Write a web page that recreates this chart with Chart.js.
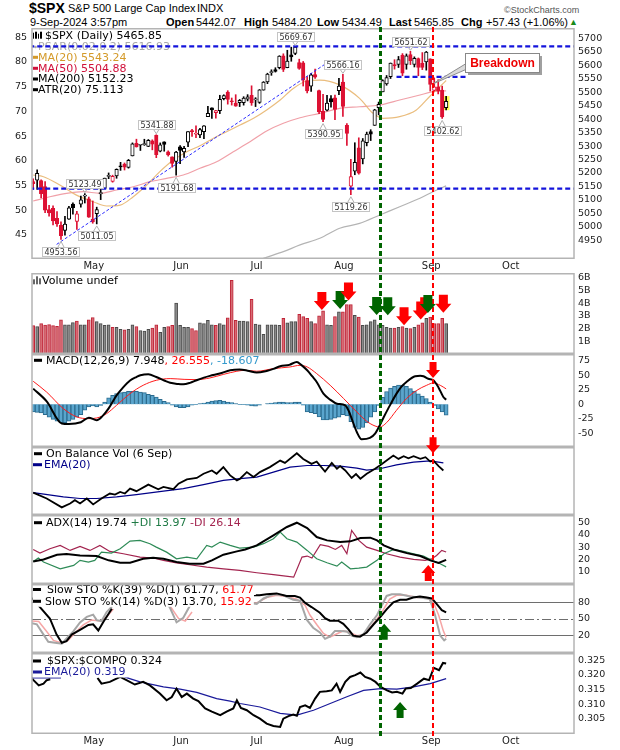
<!DOCTYPE html>
<html>
<head>
<meta charset="utf-8">
<title>$SPX daily</title>
<script src="https://cdn.jsdelivr.net/npm/chart.js@4.4.1/dist/chart.umd.min.js"></script>
<style>
  html, body { margin: 0; padding: 0; background: #fff; }
  #page { position: relative; width: 620px; height: 750px; overflow: hidden; font-family: 'Liberation Sans', Arial, sans-serif; color: #000; }
  .t { position: absolute; white-space: nowrap; font-size: 11px; line-height: 13px; }
  .b { font-weight: bold; }
  canvas { position: absolute; left: 0; }
</style>
</head>
<body>
<div id="page">
  <div class="t b" style="left:29px;top:0px;font-size:14px;line-height:16px;">$SPX</div>
  <div class="t" style="left:68px;top:2px;">S&amp;P 500 Large Cap Index</div>
  <div class="t" style="left:197px;top:2px;">INDX</div>
  <div class="t" style="left:504px;top:4px;font-size:9px;color:#555;">&copy;StockCharts.com</div>
  <div class="t" style="left:30px;top:16px;">9-Sep-2024 3:57pm</div>
  <div class="t b" style="left:166px;top:16px;">Open</div>
  <div class="t" style="left:196px;top:16px;">5442.07</div>
  <div class="t b" style="left:244px;top:16px;">High</div>
  <div class="t" style="left:272px;top:16px;">5484.20</div>
  <div class="t b" style="left:317px;top:16px;">Low</div>
  <div class="t" style="left:342px;top:16px;">5434.49</div>
  <div class="t b" style="left:389px;top:16px;">Last</div>
  <div class="t" style="left:414px;top:16px;">5465.85</div>
  <div class="t b" style="left:461px;top:16px;">Chg</div>
  <div class="t" style="left:486px;top:16px;">+57.43 (+1.06%)</div>
  <div class="t" style="left:569px;top:16px;font-size:9px;color:#1a8a1a;">&#9650;</div>

  <canvas id="cPrice" width="620" height="245" style="top:28px"></canvas>
  <canvas id="cVol" width="620" height="81" style="top:273px"></canvas>
  <canvas id="cMacd" width="620" height="93" style="top:354px"></canvas>
  <canvas id="cObv" width="620" height="68" style="top:447px"></canvas>
  <canvas id="cAdx" width="620" height="69" style="top:515px"></canvas>
  <canvas id="cSto" width="620" height="69" style="top:584px"></canvas>
  <canvas id="cRatio" width="620" height="97" style="top:653px"></canvas>
  <canvas id="overlay" width="620" height="750" style="top:0"></canvas>
</div>

<script>
/* ===========================
   DATA  (daily bars, 10-Apr-2024 .. 9-Sep-2024)
=========================== */

const dates = [
  'Apr 10','Apr 11','Apr 12','Apr 15','Apr 16','Apr 17','Apr 18','Apr 19','Apr 22','Apr 23','Apr 24','Apr 25','Apr 26','Apr 29','Apr 30',
  'May 1','May 2','May 3','May 6','May 7','May 8','May 9','May 10','May 13','May 14','May 15','May 16','May 17','May 20','May 21','May 22','May 23','May 24','May 28','May 29','May 30','May 31',
  'Jun 3','Jun 4','Jun 5','Jun 6','Jun 7','Jun 10','Jun 11','Jun 12','Jun 13','Jun 14','Jun 17','Jun 18','Jun 20','Jun 21','Jun 24','Jun 25','Jun 26','Jun 27','Jun 28',
  'Jul 1','Jul 2','Jul 3','Jul 5','Jul 8','Jul 9','Jul 10','Jul 11','Jul 12','Jul 15','Jul 16','Jul 17','Jul 18','Jul 19','Jul 22','Jul 23','Jul 24','Jul 25','Jul 26','Jul 29','Jul 30','Jul 31',
  'Aug 1','Aug 2','Aug 5','Aug 6','Aug 7','Aug 8','Aug 9','Aug 12','Aug 13','Aug 14','Aug 15','Aug 16','Aug 19','Aug 20','Aug 21','Aug 22','Aug 23','Aug 26','Aug 27','Aug 28','Aug 29','Aug 30',
  'Sep 3','Sep 4','Sep 5','Sep 6','Sep 9'
];

const prevClose = 5209.91;

const open = [
  5167.88,5172.95,5171.51,5149.67,5064.59,5068.97,5031.52,5005.44,4987.33,5028.85,5084.86,5019.88,5084.65,5114.13,5103.78,
  5029.03,5049.32,5122.78,5142.42,5187.20,5168.98,5189.03,5225.49,5233.08,5221.10,5263.26,5310.07,5303.10,5305.35,5298.69,5319.28,5340.26,5281.45,5315.91,5278.73,5259.77,5243.21,
  5297.15,5278.24,5314.48,5357.80,5343.81,5341.22,5353.00,5409.13,5441.93,5424.08,5431.11,5476.15,5499.99,5466.77,5459.58,5460.73,5460.71,5473.59,5488.48,
  5471.08,5461.84,5507.44,5537.91,5572.75,5584.24,5591.26,5635.21,5590.76,5638.16,5644.09,5610.07,5608.56,5543.37,5522.30,5565.30,5505.84,5428.70,5433.67,5476.55,5478.73,5505.59,
  5537.84,5376.63,5151.14,5206.42,5293.13,5252.57,5312.70,5353.98,5376.98,5442.80,5501.13,5530.50,5557.23,5602.88,5603.09,5637.77,5602.88,5639.66,5602.89,5624.51,5607.30,5612.74,
  5623.89,5506.68,5520.08,5507.33,5442.07
];
const high = [
  5178.43,5211.78,5175.03,5168.43,5079.84,5077.96,5056.66,5019.02,5038.84,5076.12,5089.48,5057.75,5114.62,5123.49,5110.83,
  5096.12,5073.21,5139.12,5181.00,5200.23,5191.95,5215.30,5239.66,5237.26,5250.37,5311.76,5325.49,5305.45,5325.32,5324.32,5323.18,5341.88,5311.65,5315.91,5282.27,5260.21,5280.33,
  5302.11,5298.80,5354.16,5362.35,5375.08,5365.79,5375.95,5447.25,5441.93,5432.39,5488.50,5490.38,5505.53,5478.31,5490.66,5472.88,5483.14,5490.81,5523.64,
  5479.55,5509.69,5539.27,5570.33,5583.11,5590.75,5635.39,5642.45,5655.56,5666.94,5669.67,5622.49,5614.05,5557.50,5570.36,5585.34,5508.04,5491.59,5488.32,5487.74,5489.46,5551.51,
  5566.16,5383.89,5250.89,5312.34,5330.64,5328.03,5351.88,5360.74,5436.50,5463.22,5546.23,5561.98,5608.30,5620.51,5632.68,5643.22,5641.82,5651.62,5631.18,5627.03,5646.95,5651.37,
  5623.89,5552.99,5546.30,5522.47,5484.20
];
const low = [
  5138.70,5138.77,5107.94,5052.47,5039.83,5007.25,5001.89,4953.56,4969.40,5027.96,5047.02,4990.58,5073.14,5088.65,5035.31,
  5013.45,5011.05,5101.22,5142.42,5178.96,5165.86,5180.41,5209.68,5211.16,5217.98,5263.26,5296.19,5283.59,5302.40,5297.87,5286.01,5256.93,5278.39,5280.89,5262.70,5222.10,5191.68,
  5234.32,5257.63,5297.64,5335.36,5331.33,5331.52,5327.25,5409.13,5402.51,5403.75,5420.40,5471.32,5455.56,5452.03,5447.59,5446.56,5451.87,5467.54,5451.12,
  5446.53,5458.43,5507.42,5531.63,5562.51,5574.57,5586.44,5576.53,5590.44,5614.75,5639.02,5584.81,5522.81,5497.04,5502.77,5550.90,5419.98,5390.95,5430.70,5444.44,5397.83,5491.19,
  5410.42,5302.03,5119.26,5193.56,5195.54,5233.85,5300.53,5320.41,5376.98,5415.81,5501.13,5525.70,5550.74,5585.50,5591.57,5560.95,5585.16,5602.34,5593.48,5560.95,5583.71,5581.79,
  5504.33,5503.66,5493.54,5402.62,5434.49
];
const close = [
  5160.64,5199.06,5123.41,5061.82,5051.41,5022.21,5011.12,4967.23,5010.60,5070.55,5071.63,5048.42,5099.96,5116.17,5035.69,
  5018.39,5064.20,5127.79,5180.74,5187.70,5187.67,5214.08,5222.68,5221.42,5246.68,5308.15,5297.10,5303.27,5308.13,5321.41,5307.01,5267.84,5304.72,5306.04,5266.95,5235.48,5277.51,
  5283.40,5291.34,5354.03,5352.96,5346.99,5360.79,5375.32,5421.03,5433.74,5431.60,5473.23,5487.03,5473.17,5464.62,5447.87,5469.30,5477.90,5482.87,5460.48,
  5475.09,5509.01,5537.02,5567.19,5572.85,5576.98,5633.91,5584.54,5615.35,5631.22,5667.20,5588.27,5544.59,5505.00,5564.41,5555.74,5427.13,5399.22,5459.10,5463.54,5436.44,5522.30,
  5446.68,5346.56,5186.33,5240.03,5199.50,5319.31,5344.16,5344.39,5434.43,5455.21,5543.22,5554.25,5608.25,5597.12,5620.85,5570.64,5634.61,5616.84,5625.80,5592.18,5591.96,5648.40,
  5528.93,5520.07,5503.41,5408.42,5465.85
];

// volume, billions
const volume = [
  2.23,2.15,2.39,2.28,2.31,2.23,2.18,2.70,2.30,2.30,2.47,2.60,2.30,2.30,2.70,
  2.86,2.55,2.40,2.25,2.30,2.10,2.10,1.95,1.90,1.95,2.30,2.15,1.85,1.80,1.95,2.05,2.30,1.70,2.10,2.15,2.25,4.00,
  2.25,2.10,2.10,2.00,1.85,2.45,2.40,2.65,2.30,2.25,2.40,2.30,2.85,5.80,2.65,2.60,2.60,2.55,4.30,
  2.35,2.30,1.55,2.30,2.30,2.30,2.25,2.80,2.45,2.55,2.55,3.12,2.95,2.80,2.55,2.40,3.00,3.40,2.30,2.25,2.95,3.33,
  3.33,3.90,3.90,3.05,2.90,2.25,2.30,2.55,2.70,2.30,2.25,2.10,2.05,2.05,2.10,2.15,2.05,2.00,2.10,2.30,2.45,2.80,
  2.90,2.40,2.40,2.80,2.40
];

// moving averages  [bar index, value]
const ma20 = [[0,5192.6],[2.6,5186],[6.7,5155.5],[10.9,5118],[15.1,5093.5],[18.5,5077.5],[21.9,5081],[25.2,5112],[28.6,5155.5],[31.9,5205],[35.3,5248],[38.7,5279],[42,5301],[45.4,5329],[48.7,5353],[52.1,5378],[55.5,5403],[58.8,5434],[62.2,5471],[65.5,5514],[68.9,5541.5],[72.2,5545],[77.2,5527],[82.2,5477],[85.6,5421.6],[88.1,5403],[92.3,5409],[96.5,5434],[99.8,5483],[102.4,5520],[104,5543.24]];
const ma50 = [[0,5096],[4.2,5112],[8.4,5124.6],[12.6,5130.7],[16.8,5124.6],[21,5137],[25.2,5149],[29.4,5167.7],[33.6,5180],[37.8,5192.6],[42,5217.5],[46.2,5242],[50.4,5279],[54.6,5316],[58.8,5356],[63,5384.5],[67.2,5405],[72.2,5421.6],[77.2,5440],[82.2,5446],[87.3,5452.4],[92.3,5471],[97.4,5489.5],[100.7,5502],[104,5504.88]];
const ma200 = [[56,4872],[58,4883],[63,4908],[67.2,4933],[72.2,4957.6],[77.2,4995],[82.2,5013],[87.3,5044],[92.3,5075],[97.4,5106],[100.7,5130.7],[104,5152.23]];

// annotations on the price panel
const trendLine = [[5.9,4935],[73.3,5602]];
const levelLines = [
  { from: -1, to: 140, value: 5669.67 },
  { from: -1, to: 140, value: 5142 },
  { from: 91.5, to: 109, value: 5557 }
];
const calloutIdx  = [7, 13, 16, 31, 36, 66, 73, 78, 80, 95, 103];
const calloutKind = ['low','high','low','high','low','high','low','high','low','high','low'];
const breakdown = { text: 'Breakdown', boxIdx: 108.8, boxVal: 5646.5, tipIdx: 100.4, tipVal: 5529 };

// MACD(12,26,9)
const macdLine = [[0,27],[3.4,5],[7.2,-33],[9,-34],[12,-31],[14,-23],[16,-27.6],[17.5,-20],[19,-7],[21,15.5],[22.5,28],[24.4,41],[26,47],[27,50],[29,51.7],[31,47],[33,41],[34.5,37],[36.5,35],[37.8,34.5],[39.5,37],[41,41],[43,46],[44.5,49],[47,53],[49.6,58.6],[52,60],[54,58],[56.3,54.6],[58.8,57.5],[60.5,61],[62.2,65.5],[64.5,68],[66.4,73],[67.5,68],[69,58.6],[70.3,48],[71.4,38.5],[73.1,18.4],[74.8,8],[76.5,1.1],[78.6,-1.7],[79.5,-12],[80.2,-24.7],[81.5,-47.7],[82.7,-60.3],[84.8,-58],[86.1,-50.6],[87.3,-36],[88.3,-22],[89.4,-7.5],[91.5,18.4],[92.7,30],[94,38.5],[96.2,48.3],[97.5,49],[98.3,48.3],[99.5,44],[100.8,41.4],[102.1,28.7],[103.3,12.6],[104,7.95]];
const macdSignal = [[0,39.7],[3.4,21],[7.6,-7.5],[11,-21.8],[13.9,-24.7],[16,-23.6],[18.5,-16],[21,-1.7],[24.4,18.4],[27.7,32.8],[31,41.4],[34.5,44.3],[38,43],[41,42.5],[44.5,45.4],[48,51.7],[51.3,57],[53.4,58.6],[56.3,57],[60.5,61.5],[64.7,64.4],[67.2,67.2],[69,64.4],[71.4,52.9],[74.8,32.8],[78.2,9.8],[81.5,-13.2],[84,-29.3],[86.1,-37.4],[87.3,-39.1],[89,-31.6],[91.5,-10.3],[94,9.8],[96.6,24],[99.1,32.8],[100.8,36.8],[102.5,32.8],[104,26.56]];
const macdHist = [
  -13,-14,-15,-18,-22,-26,-29,-31.6,-31.6,-29,-26,-22,-18,-10,-4.6,
  -3,-4.6,-2,4,11,15.5,18.4,20,21,22.4,22.4,22.4,21,20,17,15.5,12.6,8.6,5,3,-1.7,-4.6,
  -5.7,-5.7,-4.6,-1.7,-0.6,1.1,2.3,4,5.7,6.3,6.9,5.7,4,3,1.1,-0.6,-0.6,-1.7,-3,
  -3.4,-1.7,0,1.1,2.3,3,4,4,3,3,4,4,-1.7,-13,-14.4,-16,-21.8,-27,-27,-26,-24,-22,
  -18,-20,-30,-40,-43,-40,-32,-22,-13,-2,12,22,28,31,33,33,31,27,23,18,14,10,
  4,-2,-8,-13,-18.6
];

// On Balance Volume (relative units, 0 = panel floor, 100 = panel top)
const obvLine = [[0,33],[3.4,24.3],[7.2,11.2],[9.3,17],[10.5,21.8],[11.8,17],[13.5,24.3],[15.1,15.5],[17.2,24.3],[19.3,31.6],[20.6,30],[21.9,34],[23.1,31.6],[24.4,38.8],[26,35],[29,44.7],[31.5,37.9],[32.8,41.3],[35.3,37.9],[36.6,46],[38.7,52.4],[41.2,54.4],[42.9,60.7],[45,65.5],[46.2,60.7],[47.9,70.4],[49.6,58.3],[51.3,51],[52.1,53.4],[53.8,63.1],[55.5,55.8],[57.1,63.1],[59.6,70.4],[62.2,80],[63.4,76.7],[66.4,90.8],[68,82.5],[70.1,75.2],[71.4,78.6],[73.5,64],[75.2,76.7],[76.5,68],[77.3,71.8],[78.6,65.5],[80.2,54.4],[81.3,60.2],[82.4,53.4],[84,60.7],[86.1,68],[87.3,72.8],[89,80],[90.7,87.4],[92,82.5],[93.3,86.4],[94.5,83.5],[95.8,86.4],[97.5,82.5],[98.8,85],[100,78.6],[100.8,80],[102.1,71.8],[103.3,65.5]];
const obvEma = [[0,33],[7.6,26.7],[11.8,24.3],[16,24.3],[21,26.7],[26,30],[32.8,35],[37.8,38.8],[42.9,44.7],[47.9,51],[52.1,53.4],[56.3,55.8],[60.5,63.1],[64.7,70.4],[69,72.8],[73.1,72.8],[77.3,71.8],[81.5,69],[84,66],[87.3,68],[91.5,73.8],[95.8,77.7],[100,79.6],[103.3,76.7]];

// ADX(14)
const adxLine = [[0,18.4],[2.6,20],[6,23.9],[8.4,24.4],[11.8,23.3],[16,22.8],[19,19.3],[21.9,17.3],[24.4,17.3],[27.7,20.6],[30.2,21.4],[32.8,20.6],[36.1,17.9],[39.4,16.5],[42.9,16.5],[45,19.3],[47.9,23.9],[51.3,26.6],[53.4,28.2],[56.3,31.5],[60.5,39.7],[63.9,46.5],[66.4,50],[69,45.6],[71.4,38.3],[74,35.6],[77.3,34.2],[79.9,34.8],[82.4,37.5],[84.9,37.8],[86.6,35.6],[88.3,31.5],[90.8,28.2],[94.1,25.2],[97.5,22.8],[100,19.3],[102.1,17.1],[104,19.74]];
const plusDI = [[0,18.4],[1.3,21.2],[2.6,17.9],[6.8,12.4],[10.2,15.2],[11.8,19.3],[13.9,17.9],[15.5,19.3],[17.2,26],[19.7,25.2],[21.9,28.8],[24.4,35],[26.9,35.6],[29.4,32.9],[31,30.1],[33.6,26],[36.1,20.6],[38.7,22],[41.2,20.6],[43.7,31.5],[45,30.1],[47.1,34.2],[49.6,31.5],[52,29.3],[55.5,30.1],[58,32.9],[60.5,36.9],[62.2,42.4],[63.9,36.9],[66.4,34.2],[69,27.4],[71.4,20.6],[74,17.3],[76.5,14.6],[77.7,17.9],[79.9,12.4],[82,13],[84,13.8],[86.6,19.3],[88.3,24.7],[90.8,28.2],[93.3,26.6],[95.8,24.7],[98.3,22.8],[100.4,19.3],[102.5,16.5],[104,13.97]];
const minusDI = [[0,28.2],[1.7,25.2],[4.2,28.8],[6.8,31.5],[9.3,27.4],[11.8,30.7],[14.3,27.4],[16.8,31.5],[19.3,26.6],[22.7,24.7],[26.9,22],[30.2,21.2],[32.8,19.3],[36.1,17.3],[39.4,15.7],[43.7,13.8],[47.9,12.4],[52,11.1],[56.3,9.2],[60.5,7.6],[65.6,5.6],[67.7,22],[69,22.8],[70.2,21.2],[72.3,32],[74.4,30.7],[76.1,28.2],[77.7,31.5],[79,24.7],[80.2,43.7],[82,35.6],[84,30.1],[86.6,27.4],[89,24.7],[92.4,22],[95.8,20.1],[98.7,19.3],[100.4,20.6],[101.6,23.3],[102.9,27.4],[104,26.14]];

// Slow stochastics (gaps where the legend box hides the lines)
const stoK39 = [[-0.3,88],[1.7,71.2],[4.2,50.6],[5.9,21.2],[7.2,6.5],[8.4,9.4],[9.7,21.2],[11.8,30],[13.9,38.8],[15.1,40],[16.4,28.8],[17.7,44.7],[19.8,68.2],[20.5,null],[55.6,93],[57,93],[58.8,94.5],[61.3,96.2],[63.8,91.6],[65.9,91.6],[67.2,88.7],[68.5,78.9],[70.1,71.4],[72.2,61],[73.5,51.2],[74.7,46.5],[76.8,46.5],[78.1,40.8],[79.4,30.9],[80.6,19.4],[82.3,17.6],[84,25.1],[85.7,39.6],[87.3,52.3],[89,67.3],[90.7,80],[92.4,84.7],[94,84.7],[95.7,88.7],[97.4,90.5],[99.1,88.7],[100.4,87],[101.6,77.2],[102.9,65.6],[104,61.77]];
const stoK14 = [[-0.3,42],[0.9,40],[2.6,21.2],[3.8,8.2],[5.5,6.5],[7.2,4.7],[8.4,14.1],[10.1,27.1],[11.8,43.5],[13.5,53.5],[15.1,57.6],[16,47.6],[17.2,45.9],[18.5,62.4],[19.8,72],[20.3,null],[34,74],[34.4,71],[36.1,43.5],[37.8,51.8],[39.5,74],[40.2,null],[45,86],[47.5,87],[49.6,86],[52.1,80],[54.6,78.9],[56.3,77.2],[58,87],[60.5,94.5],[63,92.8],[65.5,84.7],[67.2,83],[68.9,48.3],[70.5,33.8],[72.2,25.1],[73.5,13.6],[74.7,17.6],[76,28],[77.3,28],[79,26.9],[80.2,19.4],[81.5,16.5],[83.2,22.3],[84.8,39.6],[86.6,56.9],[87.8,74.3],[89,91.6],[90.3,94.5],[92.4,94.5],[94.9,90.5],[97.4,88.7],[99.9,85.8],[101.2,56.9],[102.5,19.4],[103.5,10.7],[104,13.7]];
const stoD14 = [[-0.3,46],[1.4,45],[3.4,27],[5.1,10.6],[7.2,6],[8.8,10.6],[10.9,27],[12.6,38.8],[14.7,47.6],[16.8,45.9],[18.5,53.5],[20.2,68],[20.8,null],[34,76],[34.4,74],[36.6,50.6],[38.3,45.9],[40,62.4],[40.6,null],[45,88],[49.6,85],[52.1,80.9],[54.6,78.9],[56.3,78.9],[58.8,88.7],[61.3,92.8],[63.8,90.5],[66.4,85.8],[68.5,74.3],[69.7,56.9],[71.4,39.6],[73.1,23.4],[74.7,16.5],[76.4,22.3],[78.1,28],[79.8,25.1],[81.5,19.4],[83.2,21.2],[84.8,33.8],[86.5,48.3],[88.1,65.6],[89.8,85.8],[91.5,92.8],[94,92.8],[96.6,88.7],[99.1,88.7],[100.8,80],[102.1,56.9],[103.3,28],[104,15.92]];
const stoLevels = [80, 50, 20];

// $SPX:$COMPQ ratio
const ratioLine = [[-0.3,0.3187],[1.4,0.3164],[2.6,0.3170],[3.4,0.3182],[4.3,0.3185],[4.8,null],[16.2,0.3190],[17.2,0.3170],[19.3,0.3176],[21.9,0.3193],[23.5,0.3182],[25.6,0.3167],[27.7,0.3176],[29.4,0.3164],[31.9,0.3136],[33.6,0.3113],[34.9,0.3124],[36.1,0.3153],[37.4,0.3124],[38.7,0.3136],[40.3,0.3119],[41.6,0.3110],[43.3,0.3085],[45,0.3074],[47.1,0.3062],[48.7,0.3074],[50.4,0.3085],[51.3,0.3113],[52.3,0.3087],[53.8,0.3079],[55.5,0.3062],[57.1,0.3050],[58.8,0.3033],[60.5,0.3025],[62.2,0.3022],[63,0.3050],[64.3,0.3059],[65.5,0.3064],[66.4,0.3060],[67.2,0.3090],[68.5,0.3096],[69.7,0.3087],[71,0.3119],[72.2,0.3142],[73.9,0.3144],[75.2,0.3147],[76.4,0.3170],[77.3,0.3142],[78.6,0.3176],[79.8,0.3193],[81.1,0.3199],[82.4,0.3208],[83.6,0.3193],[84.9,0.3187],[86.2,0.3176],[87.5,0.3159],[89.1,0.3147],[90.4,0.3140],[91.6,0.3142],[93,0.3136],[93.8,0.3153],[95.1,0.3155],[96.7,0.3170],[98.4,0.3187],[99.7,0.3182],[100.9,0.3224],[102.2,0.3216],[103.2,0.3241],[104,0.3239]];
const ratioEma = [[-0.3,0.3190],[7,0.3190],[7.5,null],[19.8,0.3197],[22.3,0.3196],[26.9,0.3176],[32.8,0.3159],[37,0.3151],[41.2,0.3140],[46.2,0.3119],[49.6,0.3110],[52.1,0.3102],[57.1,0.3090],[62.2,0.3068],[66.4,0.3062],[70.6,0.3079],[74.8,0.3102],[79,0.3125],[83.2,0.3147],[87.5,0.3153],[91.6,0.3151],[95.8,0.3159],[100,0.3170],[104,0.3187]];

// axis ticks
const monthTickIdx = [15, 37, 56, 78, 100, 120];
const monthNames = ['May', 'Jun', 'Jul', 'Aug', 'Sep', 'Oct'];
const priceTicks = [4950,5000,5050,5100,5150,5200,5250,5300,5350,5400,5450,5500,5550,5600,5650,5700];
const leftTicks = [45,50,55,60,65,70,75,80,85];
const volTicks = [1,2,3,4,5,6];
const macdTicks = [-50,-25,0,25,50,75];
const adxTicks = [10,20,30,40,50];
const ratioTicks = [0.305,0.31,0.315,0.32,0.325];

// signal lines and arrows
const signalLines = [
  { idx: 87.3, color: '#006400', width: 2.5, dash: 5, gap: 3 },
  { idx: 100.6, color: '#ff0000', width: 2, dash: 5, gap: 3 }
];
const arrows = [
  { panel: 'vol', idx: 72.7, val: 3.46, dir: 'down', color: 'red' },
  { panel: 'vol', idx: 77.3, val: 3.55, dir: 'down', color: 'green' },
  { panel: 'vol', idx: 79.4, val: 4.22, dir: 'down', color: 'red' },
  { panel: 'vol', idx: 86.5, val: 3.08, dir: 'down', color: 'green' },
  { panel: 'vol', idx: 89.3, val: 3.05, dir: 'down', color: 'green' },
  { panel: 'vol', idx: 93.4, val: 2.26, dir: 'down', color: 'red' },
  { panel: 'vol', idx: 97.6, val: 2.72, dir: 'down', color: 'red' },
  { panel: 'vol', idx: 98.6, val: 3.05, dir: 'down', color: 'red' },
  { panel: 'vol', idx: 99.4, val: 3.22, dir: 'down', color: 'green' },
  { panel: 'vol', idx: 103.3, val: 3.24, dir: 'down', color: 'red' },
  { panel: 'macd', idx: 100.7, val: 45.3, dir: 'down', color: 'red' },
  { panel: 'obv', idx: 100.7, val: 90.8, dir: 'down', color: 'red' },
  { panel: 'adx', idx: 99.5, val: 15.5, dir: 'up', color: 'red' },
  { panel: 'sto', idx: 88.4, val: 41.1, dir: 'up', color: 'green' },
  { panel: 'ratio', idx: 92.4, val: 0.3107, dir: 'up', color: 'green' }
];

/* ===========================
   SETUP
=========================== */

const FONT = "'DejaVu Sans', 'Liberation Sans', sans-serif";
const LEG_FONT = '11px ' + FONT;
const X_MIN = -0.3, X_MAX = 136.2;
const RED = '#dd1133';
const panelTop = { price: 28, vol: 273, macd: 354, obv: 447, adx: 515, sto: 584, ratio: 653 };

Chart.defaults.font.family = FONT;
Chart.defaults.color = '#222';

const pts = a => a.map(([x, y]) => ({ x, y }));
const upDay = close.map((c, i) => c >= (i ? close[i - 1] : prevClose));

function stack(list) {
  list.forEach((d, i) => { d.order = -i; });
  return list;
}

function lineSet(data, color, width, extra) {
  return Object.assign({
    type: 'line', data: pts(data), borderColor: color, borderWidth: width,
    pointRadius: 0, fill: false, tension: 0, spanGaps: false
  }, extra || {});
}

function xAxis(show, h) {
  return {
    type: 'linear', min: X_MIN, max: X_MAX, offset: false, display: show,
    grid: { display: false, drawTicks: false }, border: { display: false },
    ticks: {
      padding: show === true ? 1 : 0, color: '#222', font: { size: 10, family: FONT },
      autoSkip: false, maxRotation: 0, labelOffset: 1,
      callback: v => monthNames[monthTickIdx.indexOf(v)] || ''
    },
    afterBuildTicks: s => { s.ticks = monthTickIdx.map(v => ({ value: v })); },
    afterFit: s => { s.height = h; s.paddingLeft = 0; s.paddingRight = 0; }
  };
}

function yAxis(min, max, ticks, fmt, pos) {
  return {
    type: 'linear', position: pos || 'right', min, max,
    grid: { display: false, drawTicks: false }, border: { display: false },
    ticks: {
      display: ticks.length > 0, padding: pos === 'left' ? 5 : 4, color: '#222',
      font: { size: 9.5, family: FONT }, autoSkip: false, callback: v => fmt(v)
    },
    afterBuildTicks: s => { s.ticks = ticks.map(v => ({ value: v })); },
    afterFit: s => { s.width = pos === 'left' ? 32 : 46; s.paddingTop = 0; s.paddingBottom = 0; }
  };
}

function drawFrame(chart) {
  const { ctx, chartArea: a } = chart;
  ctx.save();
  ctx.strokeStyle = '#b4b4b4';
  ctx.lineWidth = 1.5;
  ctx.strokeRect(a.left, a.top + 0.75, a.right - a.left, a.bottom - a.top - 1.5);
  ctx.restore();
}

function drawIcon(ctx, kind, x, y) {
  ctx.save();
  if (kind === 'candle') {
    ctx.fillStyle = '#000';
    ctx.fillRect(x, y - 3, 1, 6); ctx.fillRect(x + 2, y - 4, 2, 7);
    ctx.fillRect(x + 5, y - 2, 1, 5); ctx.fillRect(x + 7, y - 4, 2, 7);
  } else {
    ctx.fillStyle = '#666';
    ctx.fillRect(x, y - 1, 2, 5); ctx.fillRect(x + 3, y - 4, 2, 8); ctx.fillRect(x + 6, y - 2, 2, 6);
  }
  ctx.restore();
}

function drawLegend(chart, rows, withBg) {
  const ctx = chart.ctx;
  ctx.save();
  ctx.textBaseline = 'middle';
  ctx.textAlign = 'left';
  rows.forEach(r => {
    ctx.font = r.font || LEG_FONT;
    let w = 0;
    r.parts.forEach(p => { w += ctx.measureText(p[0]).width; });
    if (withBg) {
      ctx.fillStyle = '#fff';
      ctx.fillRect(33, r.y - 5.5, r.x + w + 2 - 33, 11);
    }
    if (r.dash) {
      ctx.fillStyle = r.dash;
      ctx.fillRect(r.dashX || 34, r.y - 1.5, r.dashW || 8, 3);
    }
    if (r.dot) {
      ctx.fillStyle = r.dot;
      ctx.beginPath(); ctx.arc(35.5, r.y, 1.3, 0, Math.PI * 2); ctx.fill();
    }
    if (r.icon) drawIcon(ctx, r.icon, 33, r.y);
    let x = r.x;
    r.parts.forEach(([t, c]) => {
      ctx.fillStyle = c;
      ctx.fillText(t, x, r.y + 0.5);
      x += ctx.measureText(t).width;
    });
  });
  ctx.restore();
}

function baseOptions(padLeft, scales) {
  return {
    responsive: false, animation: false, events: [],
    layout: { padding: { left: padLeft, right: 0, top: 0, bottom: 0 } },
    plugins: { legend: { display: false }, tooltip: { enabled: false } },
    scales
  };
}

/* ===========================
   PRICE PANEL
=========================== */

const candleColor = upDay.map(u => (u ? '#000000' : RED));
const priceLegend = [
  { y: 7.7, x: 45, icon: 'candle', parts: [['$SPX (Daily) 5465.85', '#000']] },
  { y: 19, x: 38, dot: '#a8a8a8', parts: [['PSAR(0.02,0.2) 5616.93', '#a8a8a8']] },
  { y: 29.3, x: 38, dash: '#d49a2a', dashX: 33, dashW: 5, parts: [['MA(20) 5543.24', '#d49a2a']] },
  { y: 40.3, x: 38, dash: '#d0103a', dashX: 33, dashW: 5, parts: [['MA(50) 5504.88', '#d0103a']] },
  { y: 51, x: 38, dash: '#000', dashX: 33, dashW: 5, parts: [['MA(200) 5152.23', '#000']] },
  { y: 61.7, x: 38, dash: '#000', dashX: 33, dashW: 5, parts: [['ATR(20) 75.113', '#000']] }
];

const pricePlugin = {
  id: 'priceExtras',
  beforeDatasetsDraw(chart) { drawLegend(chart, priceLegend, false); },
  afterDatasetsDraw(chart) {
    const { ctx, scales: { x, y } } = chart;
    ctx.save();
    // value call-outs at the swing highs / lows
    ctx.font = '8px ' + FONT;
    calloutIdx.forEach((i, k) => {
      const isHigh = calloutKind[k] === 'high';
      const v = isHigh ? high[i] : low[i];
      const txt = v.toFixed(2);
      const cx = x.getPixelForValue(i);
      const py = y.getPixelForValue(v);
      const w = Math.round(ctx.measureText(txt).width + 4), h = 9;
      const top = isHigh ? Math.round(py - 5.5 - h) : Math.round(py + 7.5);
      const base = isHigh ? top + h : top;
      const tip = isHigh ? py - 1 : py + 2;
      const left = Math.round(cx - w / 2);
      ctx.strokeStyle = '#b0b0b0';
      ctx.lineWidth = 1;
      ctx.beginPath(); ctx.moveTo(cx - 3, base); ctx.lineTo(cx, tip); ctx.lineTo(cx + 3, base); ctx.stroke();
      ctx.fillStyle = '#fff';
      ctx.fillRect(left, top, w, h);
      ctx.strokeStyle = '#c4c4c4';
      ctx.strokeRect(left + 0.5, top + 0.5, w, h);
      ctx.fillStyle = '#333';
      ctx.textAlign = 'center'; ctx.textBaseline = 'middle';
      ctx.fillText(txt, left + w / 2 + 0.5, top + h / 2 + 1);
    });
    // "Breakdown" note
    const bx = Math.round(x.getPixelForValue(breakdown.boxIdx));
    const by = Math.round(y.getPixelForValue(breakdown.boxVal));
    const ax = x.getPixelForValue(breakdown.tipIdx), ay = y.getPixelForValue(breakdown.tipVal);
    const bw = 74, bh = 19;
    ctx.fillStyle = '#dadada'; ctx.strokeStyle = '#8c8c8c'; ctx.lineWidth = 1;
    ctx.beginPath(); ctx.moveTo(bx + 2, by + 10); ctx.lineTo(ax, ay); ctx.lineTo(bx + 2, by + 16); ctx.closePath();
    ctx.fill(); ctx.stroke();
    ctx.fillStyle = '#a0a0a0'; ctx.fillRect(bx + 3, by + 3, bw, bh);
    ctx.fillStyle = '#fff'; ctx.fillRect(bx, by, bw, bh);
    ctx.strokeStyle = '#888'; ctx.strokeRect(bx + 0.5, by + 0.5, bw, bh);
    ctx.fillStyle = '#ee0000'; ctx.font = "bold 12px 'Liberation Sans', Arial, sans-serif";
    ctx.textAlign = 'center'; ctx.textBaseline = 'middle';
    ctx.fillText(breakdown.text, bx + bw / 2 + 0.5, by + bh / 2 + 1);
    ctx.restore();
  },
  afterDraw: drawFrame
};

const priceChart = new Chart(document.getElementById('cPrice'), {
  type: 'bar',
  data: {
    datasets: stack([
      { type: 'bar', data: [{ x: 104, y: [low[104], high[104]] }], backgroundColor: '#ffff55', barThickness: 6, grouped: false },
      lineSet(ma200, '#b4b4b4', 1.2, { cubicInterpolationMode: 'monotone' }),
      lineSet(ma50, 'rgba(238,150,158,0.9)', 1.2, { cubicInterpolationMode: 'monotone' }),
      lineSet(ma20, 'rgba(232,182,112,0.9)', 1.2, { cubicInterpolationMode: 'monotone' }),
      {
        type: 'bar', grouped: false, barThickness: 1,
        data: close.map((c, i) => ({ x: i, y: [low[i], high[i]] })),
        backgroundColor: candleColor
      },
      {
        type: 'bar', grouped: false, barThickness: 3.5, minBarLength: 1, borderWidth: 1, borderSkipped: false,
        data: close.map((c, i) => ({ x: i, y: [Math.min(open[i], c), Math.max(open[i], c)] })),
        borderColor: candleColor,
        backgroundColor: close.map((c, i) => (c > open[i] ? '#ffffff' : candleColor[i]))
      },
      lineSet(trendLine, '#2a2aff', 1, { borderDash: [3, 2] }),
      ...levelLines.map(l => lineSet([[l.from, l.value], [l.to, l.value]], '#1414dc', 2.2, { borderDash: [5, 3] }))
    ])
  },
  options: baseOptions(0, {
    x: xAxis(true, 14),
    y: yAxis(4880.8, 5738.2, priceTicks, v => String(v)),
    yL: yAxis(40.12, 86.88, leftTicks, v => String(v), 'left')
  }),
  plugins: [pricePlugin]
});

/* ===========================
   VOLUME PANEL
=========================== */

const volChart = new Chart(document.getElementById('cVol'), {
  type: 'bar',
  data: {
    datasets: [{
      data: volume.map((v, i) => ({ x: i, y: v })),
      barThickness: 3, borderWidth: 1, grouped: false,
      backgroundColor: upDay.map(u => (u ? '#8a8a8a' : '#d66c74')),
      borderColor: upDay.map(u => (u ? '#4a4a4a' : '#c02438'))
    }]
  },
  options: baseOptions(32, {
    x: xAxis(false, 0),
    y: yAxis(0, 6.378, volTicks, v => v + 'B')
  }),
  plugins: [{
    id: 'volExtras',
    afterDatasetsDraw(chart) { drawLegend(chart, [{ y: 7.3, x: 42, icon: 'vol', parts: [['Volume undef', '#000']] }], false); },
    afterDraw: drawFrame
  }]
});

/* ===========================
   MACD PANEL
=========================== */

const macdChart = new Chart(document.getElementById('cMacd'), {
  type: 'bar',
  data: {
    datasets: stack([
      {
        type: 'bar', grouped: false, barThickness: 4, borderWidth: 1,
        data: macdHist.map((h, i) => ({ x: i, y: h })),
        backgroundColor: '#5aa5cd', borderColor: '#2b6b8e'
      },
      lineSet(macdSignal, '#ff1a1a', 1, { cubicInterpolationMode: 'monotone' }),
      lineSet(macdLine, '#000', 2, { cubicInterpolationMode: 'monotone' })
    ])
  },
  options: baseOptions(32, {
    x: xAxis(false, 0),
    y: yAxis(-73.6, 86.7, macdTicks, v => String(v))
  }),
  plugins: [{
    id: 'macdExtras',
    afterDatasetsDraw(chart) {
      drawLegend(chart, [{ y: 6.3, x: 46, dash: '#000', parts: [['MACD(12,26,9) 7.948', '#000'], [', 26.555', '#ff0000'], [', -18.607', '#3399cc']] }], true);
    },
    afterDraw: drawFrame
  }]
});

/* ===========================
   OBV PANEL
=========================== */

const obvChart = new Chart(document.getElementById('cObv'), {
  type: 'line',
  data: {
    datasets: stack([
      lineSet(obvEma, '#000088', 1.2),
      lineSet(obvLine, '#000', 1.8)
    ])
  },
  options: baseOptions(32, {
    x: xAxis(false, 0),
    y: yAxis(0, 100, [], v => '')
  }),
  plugins: [{
    id: 'obvExtras',
    afterDatasetsDraw(chart) {
      drawLegend(chart, [
        { y: 6.7, x: 46, dash: '#000', parts: [['On Balance Vol (6 Sep)', '#000']] },
        { y: 17.7, x: 44, dash: '#000088', dashX: 33, dashW: 9, parts: [['EMA(20)', '#000088']] }
      ], true);
    },
    afterDraw: drawFrame
  }]
});

/* ===========================
   ADX PANEL
=========================== */

const adxChart = new Chart(document.getElementById('cAdx'), {
  type: 'line',
  data: {
    datasets: stack([
      lineSet(minusDI, '#a3244f', 1.2),
      lineSet(plusDI, '#2e8b57', 1.2),
      lineSet(adxLine, '#000', 2)
    ])
  },
  options: baseOptions(32, {
    x: xAxis(false, 0),
    y: yAxis(0, 56.3, adxTicks, v => String(v))
  }),
  plugins: [{
    id: 'adxExtras',
    afterDatasetsDraw(chart) {
      drawLegend(chart, [{ y: 7.7, x: 46, dash: '#000', parts: [['ADX(14) 19.74 ', '#000'], ['+DI 13.97 ', '#1f7a45'], ['-DI 26.14', '#a3244f']] }], true);
    },
    afterDraw: drawFrame
  }]
});

/* ===========================
   STOCHASTICS PANEL
=========================== */

const stoChart = new Chart(document.getElementById('cSto'), {
  type: 'line',
  data: {
    datasets: stack([
      lineSet(stoD14, 'rgba(245,160,160,0.95)', 1.5),
      lineSet(stoK14, '#a6a6a6', 2),
      lineSet(stoK39, '#000', 2)
    ])
  },
  options: baseOptions(32, {
    x: xAxis(false, 0),
    y: yAxis(-12.2, 113.3, stoLevels, v => String(v))
  }),
  plugins: [{
    id: 'stoExtras',
    beforeDatasetsDraw(chart) {
      const { ctx, chartArea: a, scales: { y } } = chart;
      ctx.save();
      ctx.strokeStyle = '#6e6e6e';
      ctx.lineWidth = 1;
      stoLevels.forEach(l => {
        const py = Math.round(y.getPixelForValue(l)) + 0.5;
        ctx.setLineDash(l === 50 ? [9, 3, 2, 3] : []);
        ctx.beginPath(); ctx.moveTo(a.left, py); ctx.lineTo(a.right, py); ctx.stroke();
      });
      ctx.restore();
    },
    afterDatasetsDraw(chart) {
      drawLegend(chart, [
        { y: 5.5, x: 47, dash: '#000', dashX: 33, parts: [['Slow STO %K(39) %D(1) 61.77, ', '#000'], ['61.77', '#ff0000']] },
        { y: 17.3, x: 45, dash: '#000', dashX: 33, parts: [['Slow STO %K(14) %D(3) 13.70, ', '#000'], ['15.92', '#ff0000']] }
      ], true);
    },
    afterDraw: drawFrame
  }]
});

/* ===========================
   RATIO PANEL
=========================== */

const ratioChart = new Chart(document.getElementById('cRatio'), {
  type: 'line',
  data: {
    datasets: stack([
      lineSet(ratioEma, '#1a1a9a', 1.2),
      lineSet(ratioLine, '#000', 2)
    ])
  },
  options: baseOptions(32, {
    x: xAxis(true, 16),
    y: yAxis(0.29976, 0.3275, ratioTicks, v => v.toFixed(3))
  }),
  plugins: [{
    id: 'ratioExtras',
    afterDatasetsDraw(chart) {
      drawLegend(chart, [
        { y: 8, x: 47, dash: '#000', dashX: 33, parts: [['$SPX:$COMPQ 0.324', '#000']] },
        { y: 19, x: 44, dash: '#1a1a9a', dashX: 33, dashW: 9, parts: [['EMA(20) 0.319', '#1a1a9a']] }
      ], true);
    },
    afterDraw: drawFrame
  }]
});

/* ===========================
   OVERLAY: signal lines + arrows
=========================== */

const charts = { price: priceChart, vol: volChart, macd: macdChart, obv: obvChart, adx: adxChart, sto: stoChart, ratio: ratioChart };

function drawArrow(ctx, x, tipY, dir, color, big) {
  const h = big ? 18 : 16, hw = big ? 8 : 7, sw = big ? 4.5 : 3.5, hh = big ? 9 : 8;
  const s = dir === 'down' ? -1 : 1;
  ctx.beginPath();
  ctx.moveTo(x, tipY);
  ctx.lineTo(x + hw, tipY + s * hh);
  ctx.lineTo(x + sw, tipY + s * hh);
  ctx.lineTo(x + sw, tipY + s * h);
  ctx.lineTo(x - sw, tipY + s * h);
  ctx.lineTo(x - sw, tipY + s * hh);
  ctx.lineTo(x - hw, tipY + s * hh);
  ctx.closePath();
  ctx.fillStyle = color === 'red' ? '#ff0000' : '#006400';
  ctx.fill();
}

function drawOverlay() {
  const ctx = document.getElementById('overlay').getContext('2d');
  const xs = priceChart.scales.x;
  // dashed vertical markers, painted as solid pixel-aligned dashes
  signalLines.forEach(s => {
    const x = Math.round(xs.getPixelForValue(s.idx) - s.width / 2);
    ctx.fillStyle = s.color;
    for (let y = 27; y < 738; y += s.dash + s.gap) {
      ctx.fillRect(x, y, Math.ceil(s.width), Math.min(s.dash, 738 - y));
    }
  });
  arrows.forEach(a => {
    const ch = charts[a.panel];
    const x = ch.scales.x.getPixelForValue(a.idx);
    const y = ch.scales.y.getPixelForValue(a.val) + panelTop[a.panel];
    drawArrow(ctx, x, y, a.dir, a.color, a.panel === 'vol');
  });
}

drawOverlay();
</script>
</body>
</html>
